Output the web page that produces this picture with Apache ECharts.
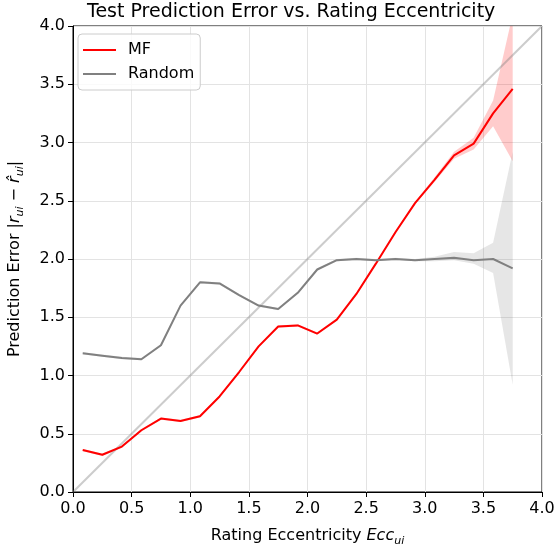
<!DOCTYPE html>
<html>
<head>
<meta charset="utf-8">
<script src="https://cdn.jsdelivr.net/npm/echarts@6/dist/echarts.min.js"></script>
<style>html,body{margin:0;padding:0;background:#fff;}#c{width:555px;height:550px;}</style>
</head>
<body>
<div id="c"></div>
<script>
const xs = [0.083,0.25,0.417,0.583,0.75,0.917,1.083,1.25,1.417,1.583,1.75,1.917,2.083,2.25,2.417,2.583,2.75,2.917,3.083,3.25,3.417,3.583,3.75];
const mfValues = [0.36,0.32,0.39,0.53,0.63,0.61,0.65,0.82,1.03,1.25,1.42,1.43,1.36,1.48,1.70,1.96,2.23,2.48,2.68,2.89,2.99,3.25,3.46];
const mfLower  = [0.35,0.31,0.38,0.52,0.62,0.60,0.64,0.81,1.02,1.24,1.41,1.42,1.35,1.47,1.69,1.95,2.22,2.47,2.66,2.86,2.94,3.14,2.84];
const mfUpper  = [0.37,0.33,0.40,0.54,0.64,0.62,0.66,0.83,1.04,1.26,1.43,1.44,1.37,1.49,1.71,1.97,2.24,2.49,2.70,2.92,3.04,3.36,4.10];
const rndValues = [1.19,1.17,1.15,1.14,1.26,1.60,1.80,1.79,1.69,1.60,1.57,1.71,1.91,1.99,2.00,1.99,2.00,1.99,2.00,2.01,1.99,2.00,1.92];
const rndLower  = [1.18,1.16,1.14,1.13,1.25,1.59,1.79,1.78,1.68,1.59,1.56,1.70,1.90,1.98,1.99,1.98,1.99,1.98,1.98,1.99,1.96,1.88,0.92];
const rndUpper  = [1.20,1.18,1.16,1.15,1.27,1.61,1.81,1.80,1.70,1.61,1.58,1.72,1.92,2.00,2.01,2.00,2.01,2.00,2.02,2.06,2.05,2.14,2.92];
const diagX = [0, 4];
const diagY = [0, 4];

const pair = (a, b) => a.map((v, i) => [v, b[i]]);

function bandSeries(lo, hi, fill) {
  return {
    type: 'custom', silent: true, z: 1,
    data: xs.map((x, i) => [x, lo[i], hi[i]]),
    encode: {x: 0, y: [1, 2]},
    renderItem: function (params, api) {
      if (params.dataIndex !== 0) return null;
      const pts = [];
      for (let i = 0; i < xs.length; i++) pts.push(api.coord([xs[i], hi[i]]));
      for (let i = xs.length - 1; i >= 0; i--) pts.push(api.coord([xs[i], lo[i]]));
      const cs = params.coordSys;
      return {
        type: 'polygon',
        shape: {points: pts},
        style: {fill: fill, stroke: null},
        clipPath: {type: 'rect', shape: {x: cs.x, y: cs.y, width: cs.width, height: cs.height}}
      };
    }
  };
}

const font = 'DejaVu Sans';
const richStyles = {
  i: {fontFamily: font, fontSize: 16, fontStyle: 'italic', lineHeight: 22, verticalAlign: 'middle'},
  s: {fontFamily: font, fontSize: 11, fontStyle: 'italic', lineHeight: 13, verticalAlign: 'bottom'}
};
const chart = echarts.init(document.getElementById('c'), null, {renderer: 'canvas'});
chart.setOption({
  animation: false,
  backgroundColor: '#fff',
  textStyle: {fontFamily: font},
  title: {
    text: 'Test Prediction Error vs. Rating Eccentricity',
    left: 82, top: -2,
    textStyle: {fontFamily: font, fontSize: 19, fontWeight: 'normal', color: '#000'}
  },
  legend: {
    data: [{name: 'MF'}, {name: 'Random'}],
    orient: 'vertical', left: 78, top: 34,
    icon: 'rect', itemWidth: 33, itemHeight: 2, itemGap: 8,
    backgroundColor: 'rgba(255,255,255,0.8)', borderColor: '#cccccc', borderWidth: 1, borderRadius: 4,
    padding: [8, 6, 8, 5],
    textStyle: {fontFamily: font, fontSize: 16, color: '#000', padding: [0, 0, 0, 7]}
  },
  grid: {left: 73, right: 13, top: 26, bottom: 58, outerBoundsMode: 'none', containLabel: false,
    show: true, borderColor: '#000', borderWidth: 1, backgroundColor: 'transparent'},
  xAxis: {
    type: 'value', min: 0, max: 4, interval: 0.5,
    name: 'Rating Eccentricity {i|Ecc}{s|ui}', nameLocation: 'middle', nameGap: 33,
    nameTextStyle: {fontFamily: font, fontSize: 16, color: '#000', rich: richStyles},
    axisLine: {lineStyle: {color: '#000', width: 1}},
    axisTick: {show: true, inside: false, length: 5, lineStyle: {color: '#000'}},
    axisLabel: {fontFamily: font, fontSize: 16, color: '#000', margin: 9, formatter: v => v.toFixed(1)},
    splitLine: {show: true, lineStyle: {color: '#e3e3e3', width: 1}}
  },
  yAxis: {
    type: 'value', min: 0, max: 4, interval: 0.5,
    name: 'Prediction Error |{i|r}{s|ui} − {i|r̂}{s|ui}|', nameLocation: 'middle', nameGap: 47, nameRotate: 90,
    nameTextStyle: {fontFamily: font, fontSize: 16, color: '#000', rich: richStyles},
    axisLine: {show: true, lineStyle: {color: '#000', width: 1}},
    axisTick: {show: true, inside: false, length: 5, lineStyle: {color: '#000'}},
    axisLabel: {fontFamily: font, fontSize: 16, color: '#000', margin: 8, formatter: v => v.toFixed(1)},
    splitLine: {show: true, lineStyle: {color: '#e3e3e3', width: 1}}
  },
  series: [
    bandSeries(mfLower, mfUpper, 'rgba(255,0,0,0.2)'),
    bandSeries(rndLower, rndUpper, 'rgba(128,128,128,0.2)'),
    {name: 'MF', type: 'line', data: pair(xs, mfValues), symbol: 'none', color: '#ff0000', lineStyle: {color: '#ff0000', width: 2}, z: 3},
    {name: 'Random', type: 'line', data: pair(xs, rndValues), symbol: 'none', color: '#808080', lineStyle: {color: '#808080', width: 2}, z: 3},
    {name: 'diag', type: 'line', data: pair(diagX, diagY), symbol: 'none', lineStyle: {color: 'rgba(128,128,128,0.4)', width: 2}, z: 2}
  ]
});
</script>
</body>
</html>
